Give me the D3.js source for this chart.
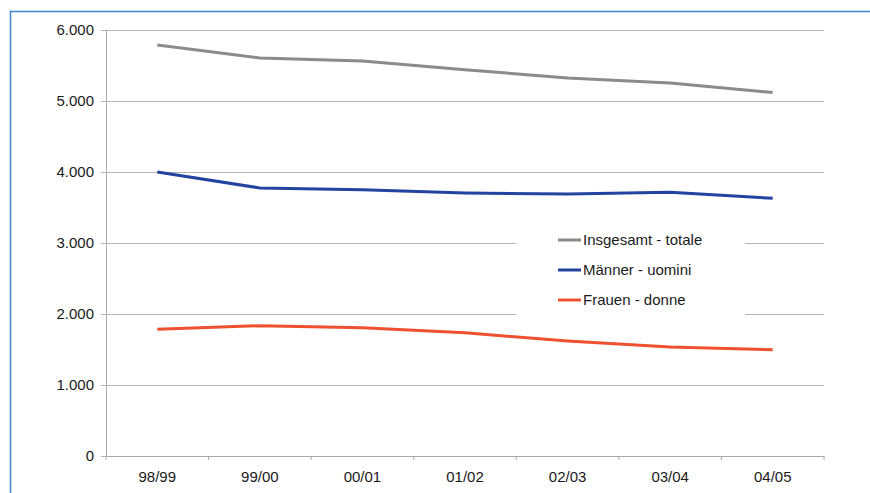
<!DOCTYPE html>
<html>
<head>
<meta charset="utf-8">
<script src="https://cdn.jsdelivr.net/npm/d3@7"></script>
<style>
  body { margin: 0; background: #fff; }
  svg { display: block; font-family: "Liberation Sans", Arial, sans-serif; }
</style>
</head>
<body>
<div id="chart"></div>
<script>
// data
let years = ["98/99", "99/00", "00/01", "01/02", "02/03", "03/04", "04/05"];
let totale = [5790, 5605, 5565, 5440, 5325, 5255, 5120];
let uomini = [4000, 3775, 3750, 3705, 3690, 3715, 3630];
let donne = [1785, 1835, 1805, 1735, 1620, 1535, 1495];
let yTicks = [0, 1000, 2000, 3000, 4000, 5000, 6000];
let seriesNames = ["Insgesamt - totale", "Männer - uomini", "Frauen - donne"];
let seriesColors = ["#8b8b8b", "#2343a0", "#ee5030"];

let width = 870, height = 493;
let plotL = 106, plotR = 824, plotT = 30, plotB = 456;

let svg = d3.select('#chart')
    .append('svg')
    .attr('width', width)
    .attr('height', height);

// blue frame around the figure
svg.append('path')
    .attr('d', 'M10.5,' + height + 'V11.5H' + width)
    .attr('fill', 'none')
    .attr('stroke', '#3a86d0')
    .attr('stroke-width', 1.5);

let x = d3.scaleBand().domain(years).range([plotL, plotR]);
let y = d3.scaleLinear().domain([0, 6000]).range([plotB, plotT]);

let de = d3.formatLocale({ decimal: ",", thousands: ".", grouping: [3], currency: ["", "€"] });

// gridlines + y labels
let yAxis = svg.append('g')
    .attr('transform', 'translate(' + plotL + ',0)')
    .call(d3.axisLeft(y)
        .tickValues(yTicks)
        .tickSize(-(plotR - plotL))
        .tickPadding(12)
        .tickFormat(de.format(',')));
yAxis.select('.domain').attr('stroke', '#a9a9a9');
yAxis.selectAll('.tick line')
    .attr('stroke', '#b4b4b4')
    .attr('x1', -5);
yAxis.selectAll('text')
    .attr('fill', '#1a1a1a')
    .style('font-size', '15px');

// x axis with ticks at category boundaries
let xAxis = svg.append('g')
    .attr('transform', 'translate(0,' + plotB + ')')
    .call(d3.axisBottom(x).tickSize(0).tickPadding(15));
xAxis.select('.domain').attr('stroke', '#a9a9a9');
xAxis.selectAll('text')
    .attr('fill', '#1a1a1a')
    .style('font-size', '15px');
let bounds = years.map(d => x(d)).concat([plotR]);
xAxis.selectAll('.bound')
    .data(bounds)
    .enter().append('line')
    .attr('x1', d => d).attr('x2', d => d)
    .attr('y1', 0).attr('y2', 4)
    .attr('stroke', '#a9a9a9');

// lines
let line = d3.line()
    .x((d, i) => x(years[i]) + x.bandwidth() / 2)
    .y(d => y(d));

[totale, uomini, donne].forEach(function (s, i) {
    svg.append('path')
        .datum(s)
        .attr('d', line)
        .attr('fill', 'none')
        .attr('stroke', seriesColors[i])
        .attr('stroke-width', 3)
        .attr('stroke-linejoin', 'round');
});

// legend
let legend = svg.append('g').attr('transform', 'translate(516,226)');
legend.append('rect')
    .attr('width', 229)
    .attr('height', 92)
    .attr('fill', '#fff');
seriesNames.forEach(function (n, i) {
    let row = legend.append('g').attr('transform', 'translate(0,' + (14 + i * 30) + ')');
    row.append('line')
        .attr('x1', 42).attr('x2', 65)
        .attr('stroke', seriesColors[i])
        .attr('stroke-width', 3);
    row.append('text')
        .attr('x', 67)
        .attr('dy', '0.35em')
        .attr('fill', '#1a1a1a')
        .style('font-size', '15px')
        .text(n);
});
</script>
</body>
</html>
